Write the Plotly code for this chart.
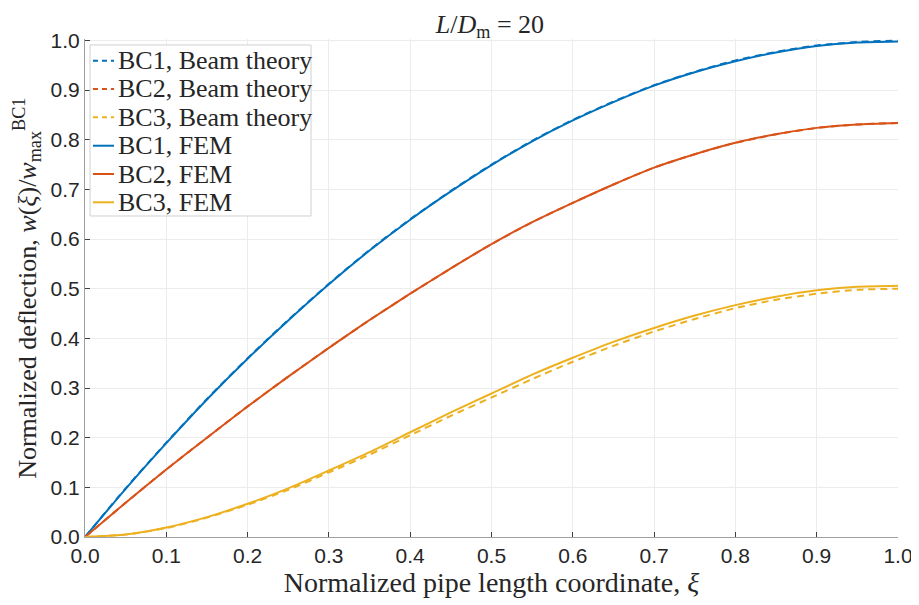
import plotly.graph_objects as go

xi = [0.0, 0.05, 0.1, 0.15, 0.2, 0.25, 0.3, 0.35, 0.4, 0.45, 0.5,
      0.55, 0.6, 0.65, 0.7, 0.75, 0.8, 0.85, 0.9, 0.95, 1.0]

bc1_beam = [0, 0.098, 0.19, 0.278, 0.36, 0.437, 0.51, 0.578, 0.64, 0.697, 0.75,
            0.798, 0.84, 0.877, 0.91, 0.937, 0.96, 0.977, 0.99, 0.997, 1.0]
bc2_beam = [0, 0.069, 0.136, 0.2, 0.263, 0.323, 0.381, 0.437, 0.49, 0.541, 0.59,
            0.634, 0.673, 0.71, 0.744, 0.771, 0.794, 0.811, 0.824, 0.831, 0.834]
bc3_beam = [0, 0.0048, 0.018, 0.039, 0.065, 0.095, 0.130, 0.166, 0.205, 0.244, 0.281,
            0.318, 0.353, 0.385, 0.414, 0.439, 0.461, 0.478, 0.490, 0.498, 0.500]

bc1_fem = [0, 0.097, 0.189, 0.277, 0.359, 0.436, 0.509, 0.577, 0.639, 0.696, 0.749,
           0.797, 0.839, 0.876, 0.909, 0.936, 0.958, 0.976, 0.989, 0.996, 0.998]
bc2_fem = [0, 0.069, 0.136, 0.2, 0.263, 0.323, 0.381, 0.437, 0.49, 0.541, 0.59,
           0.634, 0.673, 0.71, 0.744, 0.771, 0.794, 0.811, 0.824, 0.831, 0.834]
bc3_fem = [0, 0.005, 0.019, 0.040, 0.067, 0.098, 0.134, 0.171, 0.211, 0.251, 0.289,
           0.327, 0.361, 0.393, 0.421, 0.446, 0.467, 0.484, 0.497, 0.504, 0.506]

series_names = ["BC1, Beam theory", "BC2, Beam theory", "BC3, Beam theory",
                "BC1, FEM", "BC2, FEM", "BC3, FEM"]

x_ticks = [0.0, 0.1, 0.2, 0.3, 0.4, 0.5, 0.6, 0.7, 0.8, 0.9, 1.0]
y_ticks = [0.0, 0.1, 0.2, 0.3, 0.4, 0.5, 0.6, 0.7, 0.8, 0.9, 1.0]

colors = ["#0072BD", "#D95319", "#EDB120"]
SERIF = "Liberation Serif"
SANS = "Liberation Sans"
TXT = "#262626"
DASH = "7px,5px"

fig = go.Figure()
series = [
    (series_names[0], bc1_beam, colors[0], DASH),
    (series_names[1], bc2_beam, colors[1], DASH),
    (series_names[2], bc3_beam, colors[2], DASH),
    (series_names[3], bc1_fem, colors[0], "solid"),
    (series_names[4], bc2_fem, colors[1], "solid"),
    (series_names[5], bc3_fem, colors[2], "solid"),
]
for name, ys, c, d in series:
    fig.add_trace(go.Scatter(x=xi, y=ys, mode="lines", name=name, showlegend=False,
                             line=dict(color=c, width=2, dash=d, shape="spline", smoothing=0.6)))

axis_common = dict(
    showgrid=True, gridcolor="#ececec", gridwidth=1,
    showline=True, linecolor="#a0a0a0", linewidth=1,
    ticks="inside", ticklen=5, tickcolor="#404040",
    tickfont=dict(family=SANS, size=21, color=TXT),
    zeroline=False, tickformat=".1f",
)

# page body has an 8px margin -> figure is sized/offset to compensate
fig.update_layout(
    width=911, height=597,
    margin=dict(l=77, r=21, t=31, b=68, autoexpand=False),
    paper_bgcolor="white", plot_bgcolor="white",
    title=dict(text="<i>L</i>/<i>D</i><sub>m</sub> = 20", x=0.529, xanchor="center",
               y=0.974, yanchor="middle", font=dict(family=SERIF, size=26, color=TXT)),
    xaxis=dict(range=[0, 1.0], tickvals=x_ticks, **axis_common,
               title=dict(text="Normalized pipe length coordinate, <i>ξ</i>", standoff=4,
                          font=dict(family=SERIF, size=28, color=TXT))),
    yaxis=dict(range=[0, 1.003], tickvals=y_ticks, **axis_common),
    showlegend=False,
)

fig.add_annotation(
    text="Normalized deflection, <i>w</i>(<i>ξ</i>)/<i>w</i><sub>max</sub><sup>BC1</sup>",
    xref="paper", yref="paper", x=-0.0715, y=0.5, xanchor="center", yanchor="middle",
    textangle=-90, showarrow=False,
    font=dict(family=SERIF, size=26, color=TXT),
)

# legend box (paper coordinates)
fig.add_shape(type="rect", xref="paper", yref="paper", x0=0.0062, x1=0.278, y0=0.6446, y1=0.988,
              line=dict(color="#d0d0d0", width=1), fillcolor="white", layer="above")
row_y = [0.9564, 0.8996, 0.8428, 0.7857, 0.7289, 0.6721]
for (name, ys, c, d), ry in zip(series, row_y):
    fig.add_shape(type="line", xref="paper", yref="paper", x0=0.0098, x1=0.0357, y0=ry, y1=ry,
                  line=dict(color=c, width=2, dash=("5px,4px" if d != "solid" else "solid")),
                  layer="above")
    fig.add_annotation(text=name, xref="paper", yref="paper", x=0.0385, y=ry,
                       xanchor="left", yanchor="middle", showarrow=False,
                       font=dict(family=SERIF, size=26, color=TXT))

fig.write_html("out.html")
